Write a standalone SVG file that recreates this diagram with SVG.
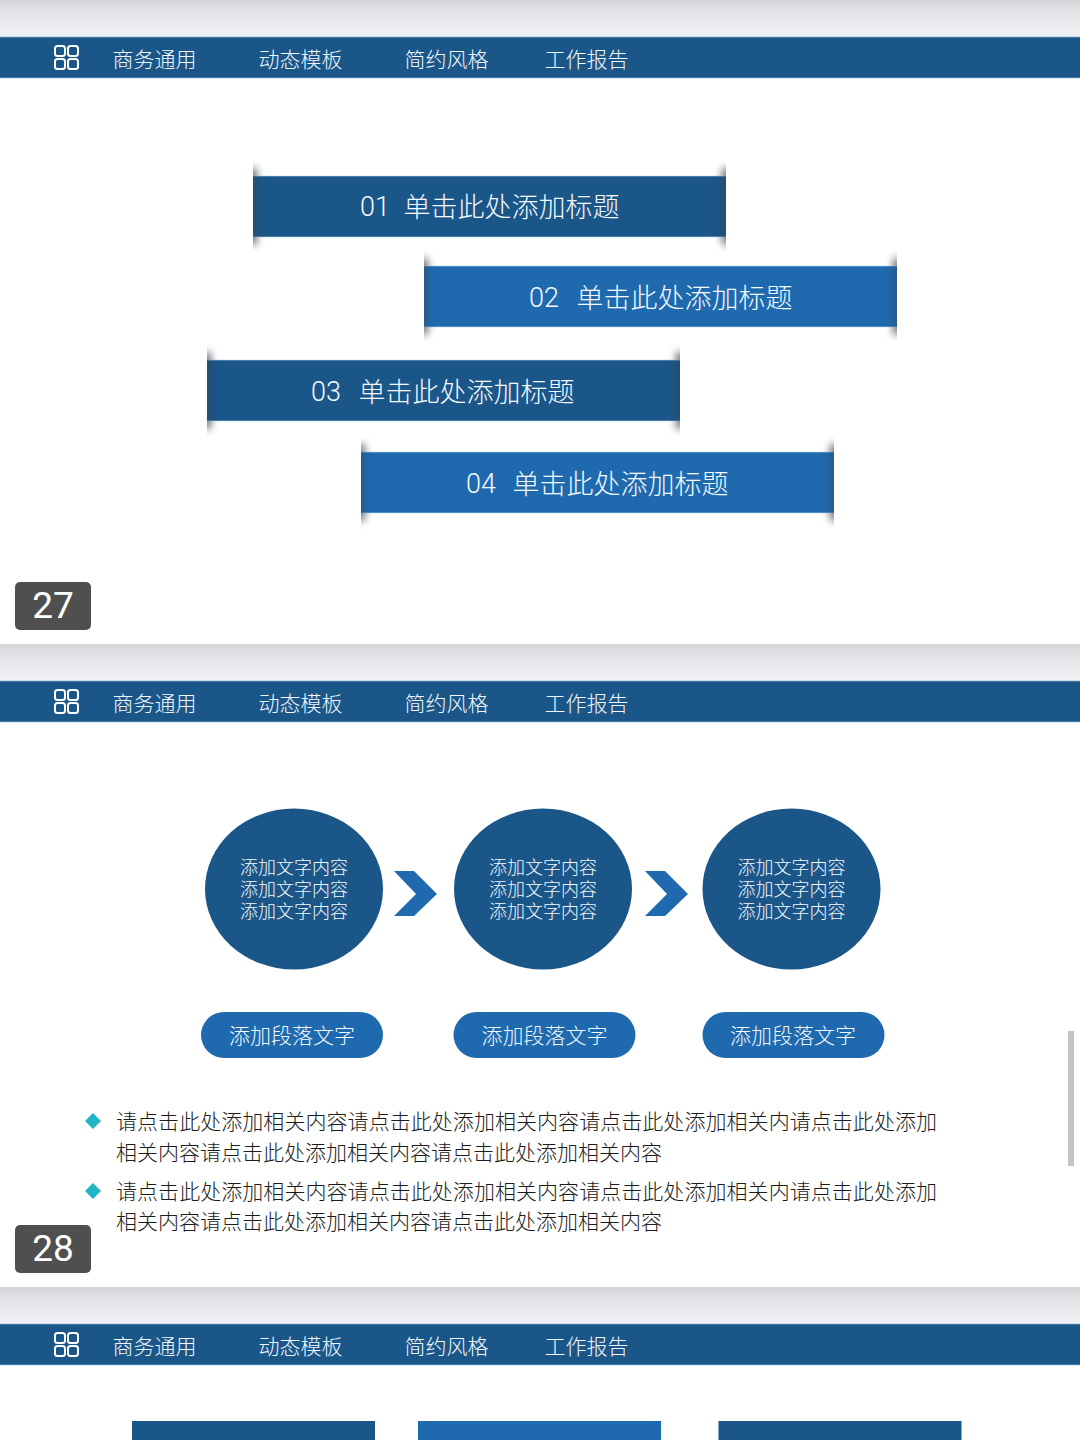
<svg xmlns="http://www.w3.org/2000/svg" width="1080" height="1440" viewBox="0 0 1080 1440">
<style>
text{font-family:"Noto Sans CJK SC","Noto Sans",sans-serif;font-weight:300}
.nav{font-size:21px;fill:#f2f7fb}
.ttl{font-size:27px;fill:#f4f9fd}
.num{font-size:27px;fill:#f4f9fd;font-family:"Roboto","Noto Sans",sans-serif;font-weight:300}
.cir{font-size:18px;fill:#f4f9fd;text-anchor:middle}
.pil{font-size:21px;fill:#f4f9fd;text-anchor:middle}
.par{font-size:21px;fill:#1c1c1c}
.bdg{font-size:37px;fill:#fff;text-anchor:middle;font-family:"Roboto","Liberation Sans",sans-serif;font-weight:400}
.dark{fill:#1b5689}
.light{fill:#1f6aae}
.edge{fill:#b9d8ef;opacity:.65}
.ico{fill:none;stroke:#fff;stroke-width:2}
.cy{fill:#22b5c4}
</style>
<defs>
<linearGradient id="gap" x1="0" y1="0" x2="0" y2="1"><stop offset="0" stop-color="#d5d6da"/><stop offset=".45" stop-color="#e6e7eb"/><stop offset="1" stop-color="#f1f2f6"/></linearGradient>
<filter id="blur" x="-300%" y="-30%" width="700%" height="160%"><feGaussianBlur stdDeviation="4"/></filter>
<clipPath id="rclip"><rect x="0" y="-20" width="473" height="101"/></clipPath>
<g id="rshade" clip-path="url(#rclip)">
<rect x="-6" y="-7" width="9" height="75" fill="#3c4450" opacity=".55" filter="url(#blur)"/>
<rect x="470" y="-7" width="9" height="75" fill="#3c4450" opacity=".55" filter="url(#blur)"/>
</g>
<g id="hdr">
<rect x="0" y="0" width="1080" height="37" fill="url(#gap)"/>
<rect x="0" y="37" width="1080" height="41" class="dark"/>
<rect x="0" y="36.500" width="1080" height="1" fill="#7fb0d8" opacity=".7"/>
<rect x="0" y="77.500" width="1080" height="1" fill="#9cc4e4" opacity=".7"/>
<rect class="ico" x="55" y="46" width="10" height="10" rx="2.500"/>
<rect class="ico" x="68" y="46" width="10" height="10" rx="2.500"/>
<rect class="ico" x="55" y="59" width="10" height="10" rx="2.500"/>
<rect class="ico" x="68" y="59" width="10" height="10" rx="2.500"/>
<text class="nav" x="112.500" y="66.500">商务通用</text>
<text class="nav" x="258.500" y="66.500">动态模板</text>
<text class="nav" x="404.500" y="66.500">简约风格</text>
<text class="nav" x="544.500" y="66.500">工作报告</text>
</g>
<polygon id="chev" points="394,871 414,871 437,894 414,916 394,916 416,894"/>
</defs>
<rect width="1080" height="1440" fill="#fff"/>

<g id="header-27"><use href="#hdr"/></g>
<g id="header-28"><use href="#hdr" y="644"/></g>
<g id="header-29"><use href="#hdr" y="1287"/></g>

<g id="ribbon-01" transform="translate(253,176)">
<use href="#rshade"/>
<rect width="473" height="61" class="dark"/><rect y="-.5" width="473" height="1" class="edge"/><rect y="60.500" width="473" height="1" class="edge"/>
<use href="#rshade"/>
<text class="num" x="107" y="40">01</text><text class="ttl" x="150.500" y="40.500">单击此处添加标题</text>
</g>
<g id="ribbon-02" transform="translate(424,266)">
<use href="#rshade"/>
<rect width="473" height="61" class="light"/><rect y="-.5" width="473" height="1" class="edge"/><rect y="60.500" width="473" height="1" class="edge"/>
<use href="#rshade"/>
<text class="num" x="105" y="41">02</text><text class="ttl" x="152.500" y="41.500">单击此处添加标题</text>
</g>
<g id="ribbon-03" transform="translate(207,360)">
<use href="#rshade"/>
<rect width="473" height="61" class="dark"/><rect y="-.5" width="473" height="1" class="edge"/><rect y="60.500" width="473" height="1" class="edge"/>
<use href="#rshade"/>
<text class="num" x="104" y="41">03</text><text class="ttl" x="151.500" y="41.500">单击此处添加标题</text>
</g>
<g id="ribbon-04" transform="translate(361,452)">
<use href="#rshade"/>
<rect width="473" height="61" class="light"/><rect y="-.5" width="473" height="1" class="edge"/><rect y="60.500" width="473" height="1" class="edge"/>
<use href="#rshade"/>
<text class="num" x="105" y="41">04</text><text class="ttl" x="151.500" y="41.500">单击此处添加标题</text>
</g>

<g id="badge-27"><rect x="15" y="582" width="76" height="48" rx="5" fill="#4f4f4f"/><text class="bdg" x="53" y="618">27</text></g>

<g id="circle-1"><ellipse cx="294" cy="889" rx="89" ry="80.500" class="dark"/>
<text class="cir" x="294" y="874">添加文字内容</text><text class="cir" x="294" y="895.500">添加文字内容</text><text class="cir" x="294" y="917.500">添加文字内容</text></g>
<g id="circle-2"><ellipse cx="543" cy="889" rx="89" ry="80.500" class="dark"/>
<text class="cir" x="543" y="874">添加文字内容</text><text class="cir" x="543" y="895.500">添加文字内容</text><text class="cir" x="543" y="917.500">添加文字内容</text></g>
<g id="circle-3"><ellipse cx="791.500" cy="889" rx="89" ry="80.500" class="dark"/>
<text class="cir" x="791.500" y="874">添加文字内容</text><text class="cir" x="791.500" y="895.500">添加文字内容</text><text class="cir" x="791.500" y="917.500">添加文字内容</text></g>

<g id="connectors">
<use href="#chev" class="light"/>
<use href="#chev" class="light" x="251"/>
</g>

<g id="pill-1"><rect x="201" y="1012" width="182" height="46" rx="23" class="light"/><text class="pil" x="292" y="1042.500">添加段落文字</text></g>
<g id="pill-2"><rect x="453.500" y="1012" width="182" height="46" rx="23" class="light"/><text class="pil" x="544.500" y="1042.500">添加段落文字</text></g>
<g id="pill-3"><rect x="702.500" y="1012" width="182" height="46" rx="23" class="light"/><text class="pil" x="793" y="1042.500">添加段落文字</text></g>

<g id="para-1">
<polygon class="cy" points="93,1113 101,1121 93,1129 85,1121"/>
<text class="par" x="116" y="1128.500" textLength="821">请点击此处添加相关内容请点击此处添加相关内容请点击此处添加相关内请点击此处添加</text>
<text class="par" x="116" y="1159.500">相关内容请点击此处添加相关内容请点击此处添加相关内容</text>
</g>
<g id="para-2">
<polygon class="cy" points="93,1183 101,1191 93,1199 85,1191"/>
<text class="par" x="116" y="1198.500" textLength="821">请点击此处添加相关内容请点击此处添加相关内容请点击此处添加相关内请点击此处添加</text>
<text class="par" x="116" y="1228.500">相关内容请点击此处添加相关内容请点击此处添加相关内容</text>
</g>

<g id="badge-28"><rect x="15" y="1225" width="76" height="48" rx="5" fill="#4f4f4f"/><text class="bdg" x="53" y="1261">28</text></g>
<rect id="scrollbar" x="1068" y="1031" width="6" height="135" fill="#c4c4c4"/>

<g id="box-1"><rect x="132" y="1421" width="243" height="19" class="dark"/></g>
<g id="box-2"><rect x="418" y="1421" width="243" height="19" class="light"/></g>
<g id="box-3"><rect x="718.500" y="1421" width="243" height="19" class="dark"/></g>
</svg>
